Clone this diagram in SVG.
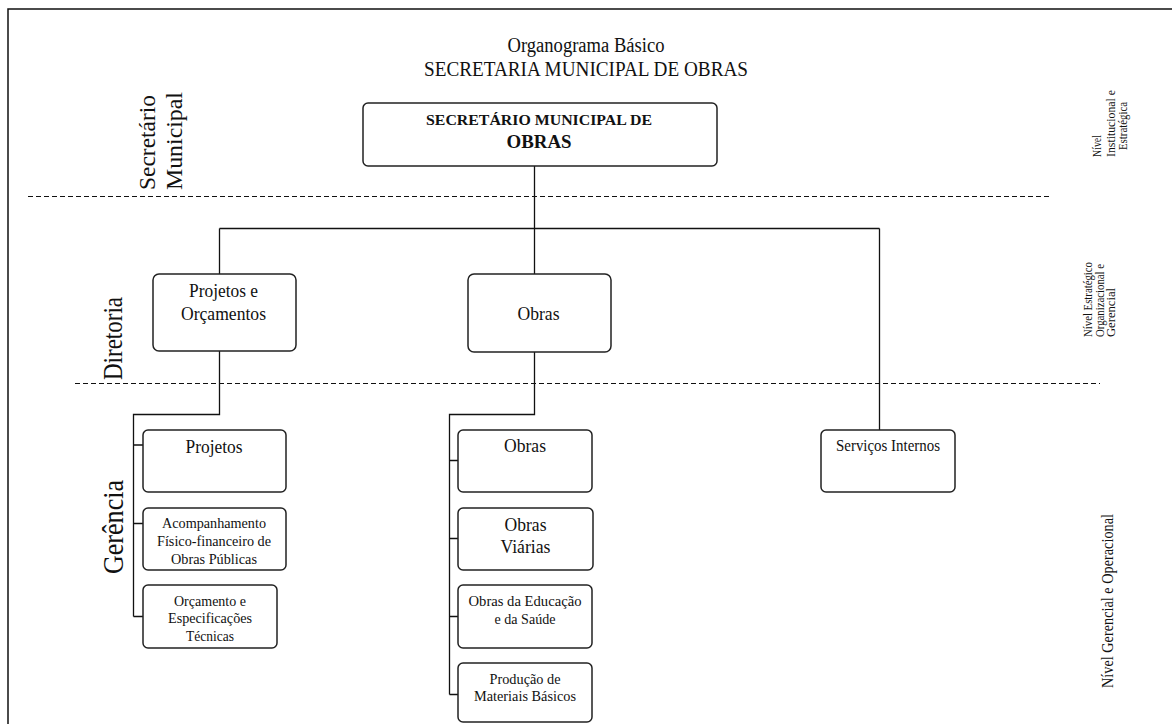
<svg xmlns="http://www.w3.org/2000/svg" width="1172" height="724" viewBox="0 0 1172 724">
  <style>
    text { font-family: "Liberation Serif", "Times New Roman", serif; fill: #111; }
    .box { fill: #fff; stroke: #222; stroke-width: 1.5; }
    .wire { fill: none; stroke: #111; stroke-width: 1.3; }
    .level { fill: none; stroke: #111; stroke-width: 1.2; stroke-dasharray: 5 3; }
    .c { text-anchor: middle; }
    .b { font-weight: bold; }
  </style>

  <rect width="1172" height="724" fill="#fff"/>
  <!-- page frame -->
  <rect x="8" y="9" width="1200" height="760" fill="none" stroke="#111" stroke-width="1.5"/>

  <!-- title -->
  <g id="title">
    <text class="c" x="586" y="52" font-size="20" textLength="157" lengthAdjust="spacingAndGlyphs">Organograma Básico</text>
    <text class="c" x="586" y="76" font-size="20" textLength="324" lengthAdjust="spacingAndGlyphs">SECRETARIA MUNICIPAL DE OBRAS</text>
  </g>

  <!-- level separators -->
  <g id="levels">
    <line class="level" x1="28" y1="196.5" x2="1052" y2="196.5"/>
    <line class="level" x1="75" y1="383.5" x2="1100" y2="383.5"/>
  </g>

  <!-- left band labels -->
  <g id="band-labels">
    <text transform="translate(155,190) rotate(-90)" font-size="24" textLength="95" lengthAdjust="spacingAndGlyphs">Secretário</text>
    <text transform="translate(182,190) rotate(-90)" font-size="24" textLength="98" lengthAdjust="spacingAndGlyphs">Municipal</text>
    <text transform="translate(122,380) rotate(-90)" font-size="27" textLength="83" lengthAdjust="spacingAndGlyphs">Diretoria</text>
    <text transform="translate(123,574) rotate(-90)" font-size="30" textLength="94" lengthAdjust="spacingAndGlyphs">Gerência</text>
  </g>

  <!-- right level labels -->
  <g id="level-labels">
    <text transform="translate(1101,157) rotate(-90)" font-size="13" textLength="22" lengthAdjust="spacingAndGlyphs">Nível</text>
    <text transform="translate(1115,157) rotate(-90)" font-size="13" textLength="67" lengthAdjust="spacingAndGlyphs">Institucional e</text>
    <text transform="translate(1127,150) rotate(-90)" font-size="13" textLength="48" lengthAdjust="spacingAndGlyphs">Estratégica</text>

    <text transform="translate(1092,337) rotate(-90)" font-size="12.5" textLength="75" lengthAdjust="spacingAndGlyphs">Nível Estratégico</text>
    <text transform="translate(1103.5,337) rotate(-90)" font-size="12.5" textLength="73" lengthAdjust="spacingAndGlyphs">Organizacional e</text>
    <text transform="translate(1115,337) rotate(-90)" font-size="12.5" textLength="49" lengthAdjust="spacingAndGlyphs">Gerencial</text>

    <text transform="translate(1112.5,688) rotate(-90)" font-size="16.5" textLength="174" lengthAdjust="spacingAndGlyphs">Nível Gerencial e Operacional</text>
  </g>

  <!-- connectors -->
  <g id="connectors">
    <path class="wire" d="M534.5,166 V228.5 M219.5,228.5 H879.5 M219.5,228.5 V274 M534.5,228.5 V274 M879.5,228.5 V430"/>
    <path class="wire" d="M219.5,351 V414.5 H133.5 V616.5 M133.5,445 H143 M133.5,523.5 H143 M133.5,616.5 H143"/>
    <path class="wire" d="M534.5,352 V414.5 H449.5 V694.5 M449.5,460.5 H458 M449.5,538.5 H458 M449.5,616.5 H458 M449.5,694.5 H458"/>
  </g>

  <!-- top level -->
  <g id="secretario">
    <rect class="box" x="363" y="103" width="354" height="63" rx="5"/>
    <text class="c b" x="539" y="125" font-size="15.5" textLength="226" lengthAdjust="spacingAndGlyphs">SECRETÁRIO MUNICIPAL DE</text>
    <text class="c b" x="539" y="148" font-size="19" textLength="65" lengthAdjust="spacingAndGlyphs">OBRAS</text>
  </g>

  <!-- directorates -->
  <g id="dir-projetos">
    <rect class="box" x="153" y="274" width="143" height="77" rx="6"/>
    <text class="c" x="223.5" y="297" font-size="19" textLength="69" lengthAdjust="spacingAndGlyphs">Projetos e</text>
    <text class="c" x="223.5" y="320" font-size="19" textLength="85" lengthAdjust="spacingAndGlyphs">Orçamentos</text>
  </g>
  <g id="dir-obras">
    <rect class="box" x="468" y="274" width="143" height="78" rx="6"/>
    <text class="c" x="538.5" y="320" font-size="19" textLength="42" lengthAdjust="spacingAndGlyphs">Obras</text>
  </g>
  <g id="servicos-internos">
    <rect class="box" x="821" y="430" width="134" height="62" rx="5"/>
    <text class="c" x="888" y="451" font-size="16.5" textLength="104" lengthAdjust="spacingAndGlyphs">Serviços Internos</text>
  </g>

  <!-- managements under Projetos e Orçamentos -->
  <g id="ger-projetos">
    <rect class="box" x="143" y="430" width="143" height="62" rx="5"/>
    <text class="c" x="214" y="453" font-size="18.5" textLength="57" lengthAdjust="spacingAndGlyphs">Projetos</text>
  </g>
  <g id="ger-acompanhamento">
    <rect class="box" x="143" y="508" width="143" height="62" rx="5"/>
    <text class="c" x="214" y="528" font-size="15" textLength="104" lengthAdjust="spacingAndGlyphs">Acompanhamento</text>
    <text class="c" x="214" y="546" font-size="15" textLength="114" lengthAdjust="spacingAndGlyphs">Físico-financeiro de</text>
    <text class="c" x="214" y="564" font-size="15" textLength="86" lengthAdjust="spacingAndGlyphs">Obras Públicas</text>
  </g>
  <g id="ger-orcamento">
    <rect class="box" x="143" y="585" width="134" height="63" rx="5"/>
    <text class="c" x="210" y="605.5" font-size="15" textLength="72" lengthAdjust="spacingAndGlyphs">Orçamento e</text>
    <text class="c" x="210" y="623" font-size="15" textLength="84" lengthAdjust="spacingAndGlyphs">Especificações</text>
    <text class="c" x="210" y="641" font-size="15" textLength="48" lengthAdjust="spacingAndGlyphs">Técnicas</text>
  </g>

  <!-- managements under Obras -->
  <g id="ger-obras">
    <rect class="box" x="458" y="430" width="134" height="62" rx="5"/>
    <text class="c" x="525" y="452" font-size="18.5" textLength="42" lengthAdjust="spacingAndGlyphs">Obras</text>
  </g>
  <g id="ger-obras-viarias">
    <rect class="box" x="458" y="508" width="135" height="62" rx="5"/>
    <text class="c" x="525.5" y="531" font-size="19.5" textLength="42" lengthAdjust="spacingAndGlyphs">Obras</text>
    <text class="c" x="525.5" y="552.5" font-size="19.5" textLength="50" lengthAdjust="spacingAndGlyphs">Viárias</text>
  </g>
  <g id="ger-educacao-saude">
    <rect class="box" x="458" y="585" width="134" height="63" rx="5"/>
    <text class="c" x="525" y="606" font-size="15" textLength="113" lengthAdjust="spacingAndGlyphs">Obras da Educação</text>
    <text class="c" x="525" y="624" font-size="15" textLength="61" lengthAdjust="spacingAndGlyphs">e da Saúde</text>
  </g>
  <g id="ger-materiais">
    <rect class="box" x="458" y="663" width="134" height="59" rx="5"/>
    <text class="c" x="525" y="683.5" font-size="15" textLength="71" lengthAdjust="spacingAndGlyphs">Produção de</text>
    <text class="c" x="525" y="701" font-size="15" textLength="102" lengthAdjust="spacingAndGlyphs">Materiais Básicos</text>
  </g>
</svg>
